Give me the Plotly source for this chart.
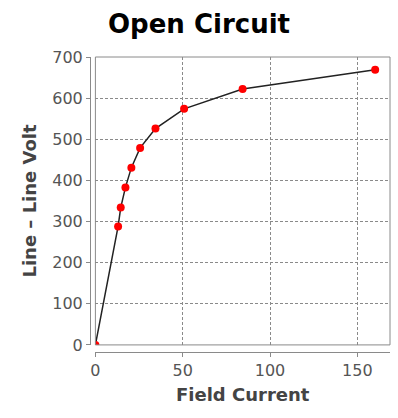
import plotly.graph_objects as go

field_current = [0, 13.0, 14.5, 17.2, 20.6, 25.6, 34.4, 50.8, 84.3, 160.2]
line_volt = [0, 288, 334, 383, 431, 479, 526, 574, 622, 669]
x_ticks = [0, 50, 100, 150]
y_ticks = [0, 100, 200, 300, 400, 500, 600, 700]

fig = go.Figure()
fig.add_trace(go.Scatter(
    x=field_current, y=line_volt, mode="lines+markers",
    line=dict(color="#222222", width=1.5),
    marker=dict(color="#ff0000", size=8),
    showlegend=False,
))

axis_common = dict(
    showgrid=True, gridcolor="#8a8a8a", griddash="3px,2px", gridwidth=1,
    zeroline=False, showline=True, linecolor="#8a8a8a", linewidth=1,
    ticks="outside", ticklen=4, tickcolor="#8a8a8a",
    tickfont=dict(family="DejaVu Sans", size=16, color="#555555"),
    anchor="free", position=0,
)

fig.update_layout(
    width=398, height=418,
    margin=dict(l=90, r=8, t=57, b=66),
    paper_bgcolor="white", plot_bgcolor="white",
    title=dict(text="<b>Open Circuit</b>", x=0.5, xanchor="center", y=1 - 24 / 418, yanchor="middle",
               font=dict(family="DejaVu Sans", size=26, color="#000000")),
    xaxis=dict(range=[0, 168.7], domain=[0.018, 1], tickvals=x_ticks,
               title=dict(text="<b>Field Current</b>", standoff=9,
                          font=dict(family="DejaVu Sans", size=18, color="#444444")),
               **axis_common),
    yaxis=dict(range=[0, 700], domain=[0.024, 1], tickvals=y_ticks,
               title=dict(text="<b>Line – Line Volt</b>", standoff=9,
                          font=dict(family="DejaVu Sans", size=18, color="#444444")),
               **axis_common),
)
fig.add_shape(type="rect", xref="x domain", yref="y domain", x0=0, x1=1, y0=0, y1=1,
              line=dict(color="#8a8a8a", width=1), layer="above")

fig.write_html("out.html")
